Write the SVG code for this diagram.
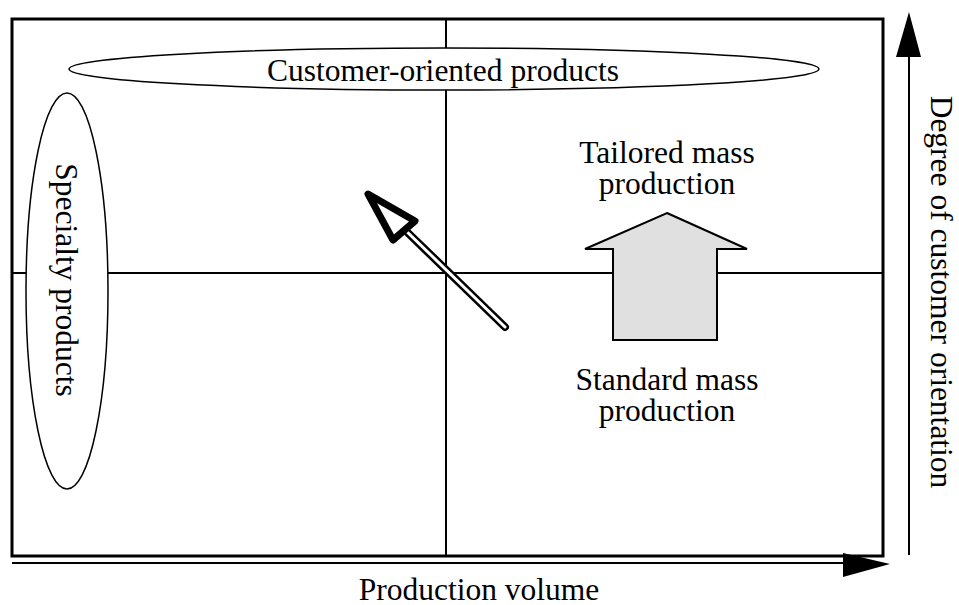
<svg xmlns="http://www.w3.org/2000/svg" width="959" height="605" viewBox="0 0 959 605">
<style>
text{font-family:"Liberation Serif","Times New Roman",serif;font-size:31.5px;fill:#000;text-anchor:middle}
.ln{stroke:#000;fill:none}
</style>
<rect width="959" height="605" fill="#fff"/>
<g id="frame">
<rect x="12" y="19" width="871" height="537" class="ln" stroke-width="3"/>
<line x1="446" y1="19" x2="446" y2="556" class="ln" stroke-width="2"/>
<line x1="12" y1="273" x2="883" y2="273" class="ln" stroke-width="2"/>
</g>
<g id="customer-oriented">
<ellipse cx="444" cy="69" rx="375" ry="21" fill="#fff" stroke="#000" stroke-width="1.5"/>
<text x="443" y="81">Customer-oriented products</text>
</g>
<g id="specialty">
<ellipse cx="67" cy="291" rx="41" ry="198" fill="#fff" stroke="#000" stroke-width="1.5"/>
<text transform="translate(56,280) rotate(90)">Specialty products</text>
</g>
<g id="tailored">
<text x="667" y="163">Tailored mass</text>
<text x="667" y="194">production</text>
</g>
<g id="standard">
<text x="667" y="390">Standard mass</text>
<text x="667" y="421">production</text>
</g>
<g id="connectors">
<polygon points="667,213 747,249 717,249 717,340 613,340 613,249 585,249" fill="#e0e0e0" stroke="#000" stroke-width="2"/>
<line x1="505" y1="327" x2="405" y2="230" stroke="#000" stroke-width="8" stroke-linecap="round"/>
<line x1="505" y1="327" x2="400" y2="225" stroke="#fff" stroke-width="3" stroke-linecap="round"/>
<polygon points="368,194 415,221 393,240" fill="#fff" stroke="#000" stroke-width="7" stroke-linejoin="round"/>
<line x1="909" y1="555" x2="909" y2="56" stroke="#000" stroke-width="2"/>
<polygon points="909,12 921,57 896,57" fill="#000"/>
<line x1="12" y1="563" x2="845" y2="563" stroke="#000" stroke-width="2"/>
<polygon points="890,564 843,553 843,577" fill="#000"/>
</g>
<g id="axis-labels">
<text x="479" y="600">Production volume</text>
<text transform="translate(931,292) rotate(90)">Degree of customer orientation</text>
</g>
</svg>
